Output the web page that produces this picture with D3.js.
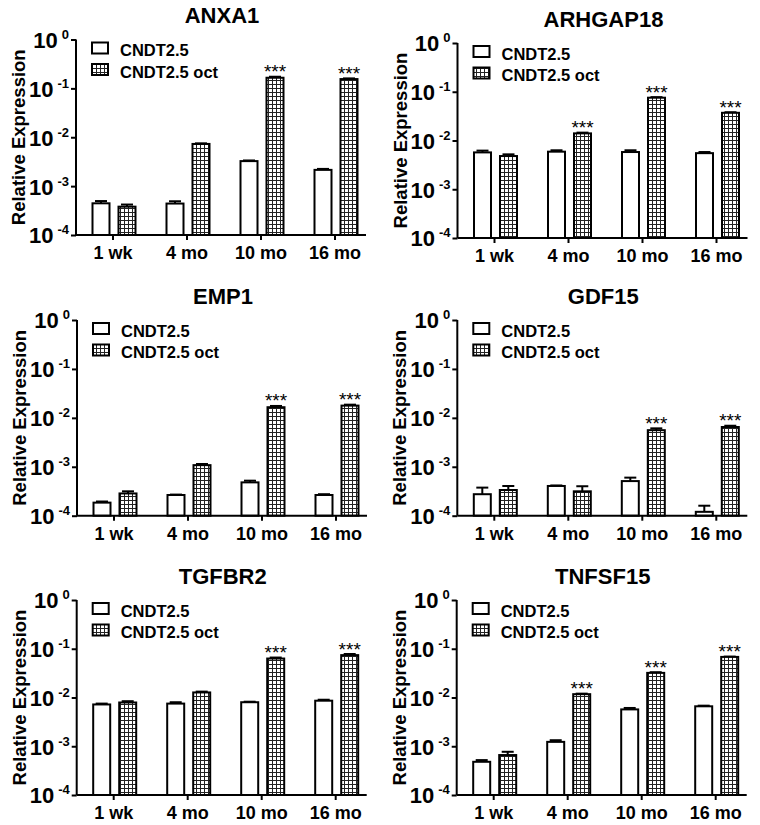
<!DOCTYPE html>
<html><head><meta charset="utf-8">
<script src="https://cdn.jsdelivr.net/npm/d3@7"></script>
<style>body{margin:0;background:#fff}svg{display:block}</style>
</head><body>
<script>
const categories = ["1 wk", "4 mo", "10 mo", "16 mo"];
const genes = ["ANXA1", "ARHGAP18", "EMP1", "GDF15", "TGFBR2", "TNFSF15"];
const seriesNames = ["CNDT2.5", "CNDT2.5 oct"];
const yTicks = [1e-4, 1e-3, 1e-2, 1e-1, 1];
const yTickExp = ["-4", "-3", "-2", "-1", "0"];

const ctrlValues = [
  [4.45e-4, 4.4e-4, 3.25e-3, 2.15e-3],
  [5.7e-3, 5.9e-3, 5.8e-3, 5.5e-3],
  [1.85e-4, 2.65e-4, 4.8e-4, 2.65e-4],
  [2.75e-4, 4.05e-4, 5.1e-4, 1.2e-4],
  [7.2e-3, 7.5e-3, 8.0e-3, 8.6e-3],
  [4.8e-4, 1.23e-3, 5.7e-3, 6.6e-3]
];
const octValues = [
  [3.8e-4, 7.3e-3, 0.165, 0.155],
  [4.8e-3, 1.4e-2, 7.55e-2, 3.7e-2],
  [2.85e-4, 1.08e-3, 1.65e-2, 1.78e-2],
  [3.35e-4, 3.15e-4, 5.6e-3, 6.5e-3],
  [7.9e-3, 1.27e-2, 6.3e-2, 7.4e-2],
  [6.6e-4, 1.17e-2, 3.2e-2, 6.8e-2]
];
const ctrlErrors = [
  [0.5e-4, 0.5e-4, 0.1e-3, 0.1e-3],
  [0.5e-3, 0.4e-3, 0.5e-3, 0.3e-3],
  [0.1e-4, 0.05e-4, 0.4e-4, 0.1e-4],
  [1.0e-4, 0.1e-4, 0.9e-4, 0.4e-4],
  [0.3e-3, 0.5e-3, 0.2e-3, 0.4e-3],
  [0.4e-4, 0.1e-3, 0.4e-3, 0.2e-3]
];
const octErrors = [
  [0.4e-4, 0.2e-3, 0.008, 0.005],
  [0.4e-3, 0.5e-3, 0.002, 0.001],
  [0.3e-4, 0.06e-3, 0.001, 0.0008],
  [0.7e-4, 0.85e-4, 0.5e-3, 0.4e-3],
  [0.5e-3, 0.5e-3, 0.003, 0.004],
  [1.1e-4, 0.3e-3, 0.001, 0.001]
];
const significance = [
  ["", "", "***", "***"],
  ["", "***", "***", "***"],
  ["", "", "***", "***"],
  ["", "", "***", "***"],
  ["", "", "***", "***"],
  ["", "***", "***", "***"]
];

// layout (pixels)
const layout = [
  {x0: 76,    top: 39.5, bottom: 235},
  {x0: 457.5, top: 43,   bottom: 238},
  {x0: 77,    top: 320,  bottom: 515.7},
  {x0: 457.3, top: 320,  bottom: 515.7},
  {x0: 76.7,  top: 600,  bottom: 795},
  {x0: 456.7, top: 600,  bottom: 795}
];

const FONT = "'Liberation Sans', Arial, Helvetica, sans-serif";
const svg = d3.select("body").append("svg").attr("width", 760).attr("height", 825)
  .style("font-family", FONT);

const defs = svg.append("defs");
const pat = defs.append("pattern").attr("id", "grid").attr("patternUnits", "userSpaceOnUse")
  .attr("width", 4).attr("height", 4);
pat.append("rect").attr("width", 4).attr("height", 4).attr("fill", "#fff");
pat.append("path").attr("d", "M0,0.5H4M0.5,0V4").attr("stroke", "#222").attr("stroke-width", 1);

genes.forEach((gene, gi) => {
  const L = layout[gi];
  const g = svg.append("g");
  const y = d3.scaleLog().domain([1e-4, 1]).range([L.bottom, L.top]);
  const x = d3.scaleBand().domain(categories).range([L.x0, L.x0 + 296]).padding(0);
  const cx = c => x(c) + x.bandwidth() / 2;

  // title
  g.append("text").attr("x", L.x0 + 146).attr("y", L.top - 16.5)
    .attr("text-anchor", "middle").attr("font-weight", "bold").attr("font-size", 22)
    .text(gene);

  // y label
  g.append("text")
    .attr("transform", `translate(${L.x0 - 51},${(L.top + L.bottom) / 2}) rotate(-90)`)
    .attr("text-anchor", "middle").attr("font-weight", "bold").attr("font-size", 18.5)
    .text("Relative Expression");

  // bars
  const barW = 17;
  const offsets = [-12, 14];
  const sets = [
    {vals: ctrlValues[gi], errs: ctrlErrors[gi], fill: "#fff"},
    {vals: octValues[gi], errs: octErrors[gi], fill: "url(#grid)"}
  ];
  sets.forEach((s, si) => {
    const data = categories.map((c, i) => ({c, v: s.vals[i], e: s.errs[i], sig: si === 1 ? significance[gi][i] : ""}));
    const eg = g.append("g").attr("stroke", "#000").attr("stroke-width", 2);
    eg.selectAll("line.v").data(data).join("line")
      .attr("x1", d => cx(d.c) + offsets[si]).attr("x2", d => cx(d.c) + offsets[si])
      .attr("y1", d => y(d.v)).attr("y2", d => y(d.v + d.e));
    eg.selectAll("line.cap").data(data).join("line").attr("class", "cap")
      .attr("x1", d => cx(d.c) + offsets[si] - 6).attr("x2", d => cx(d.c) + offsets[si] + 6)
      .attr("y1", d => y(d.v + d.e)).attr("y2", d => y(d.v + d.e));
    g.append("g").selectAll("rect").data(data).join("rect")
      .attr("x", d => cx(d.c) + offsets[si] - barW / 2)
      .attr("width", barW)
      .attr("y", d => y(d.v))
      .attr("height", d => L.bottom - y(d.v))
      .attr("fill", s.fill).attr("stroke", "#000").attr("stroke-width", 2);
    g.append("g").selectAll("text").data(data.filter(d => d.sig)).join("text")
      .attr("x", d => cx(d.c) + offsets[si]).attr("y", d => y(d.v + d.e) + 1.5)
      .attr("text-anchor", "middle").attr("font-size", 19).text(d => d.sig);
  });

  // y axis
  const ya = g.append("g").attr("transform", `translate(${L.x0},0)`)
    .call(d3.axisLeft(y).tickValues(yTicks).tickSize(5).tickFormat(""));
  ya.select(".domain").attr("stroke-width", 2).attr("d", `M0,${L.top}V${L.bottom}`);
  ya.selectAll(".tick line").attr("stroke-width", 2);
  ya.selectAll(".tick").each(function(d, i) {
    const t = d3.select(this).append("text").attr("fill", "#000")
      .attr("y", 0).attr("dy", "0.36em")
      .attr("text-anchor", "start").attr("font-weight", "bold").attr("font-size", 22)
      .attr("font-family", FONT);
    t.append("tspan").text("10");
    t.append("tspan").attr("dx", 4).attr("dy", -9).attr("font-size", 13).text(yTickExp[i]);
    const w = t.node().getComputedTextLength();
    t.attr("x", -7 - w - 4);
  });

  // x axis
  const xa = g.append("g").attr("transform", `translate(0,${L.bottom})`)
    .call(d3.axisBottom(x).tickSize(5).tickFormat(""));
  xa.select(".domain").attr("stroke-width", 2).attr("d", `M${L.x0},0H${L.x0 + 290}`);
  xa.selectAll(".tick line").attr("stroke-width", 2);
  xa.selectAll(".tick").append("text").attr("fill", "#000").attr("y", 24)
    .attr("text-anchor", "middle").attr("font-weight", "bold").attr("font-size", 18)
    .attr("font-family", FONT).text(d => d);

  // legend
  const lg = g.append("g");
  seriesNames.forEach((nm, k) => {
    const by = L.top + 3 + k * 21.5;
    lg.append("rect").attr("x", L.x0 + 16).attr("y", by).attr("width", 16).attr("height", 11)
      .attr("fill", k === 0 ? "#fff" : "url(#grid)").attr("stroke", "#000").attr("stroke-width", 2);
    lg.append("text").attr("x", L.x0 + 44).attr("y", by + 13.5)
      .attr("font-weight", "bold").attr("font-size", 16.5).text(nm);
  });
});
</script>
</body></html>
